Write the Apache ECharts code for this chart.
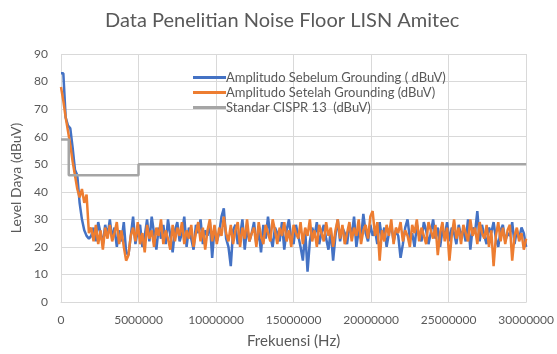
<!DOCTYPE html>
<html>
<head>
<meta charset="utf-8">
<script src="https://cdn.jsdelivr.net/npm/echarts@6/dist/echarts.min.js"></script>
<style>html,body{margin:0;padding:0;background:#fff}#c{width:557px;height:354px}</style>
</head>
<body>
<div id="c"></div>
<script>
var titleText = 'Data Penelitian Noise Floor LISN Amitec';
var seriesNames = ['Amplitudo Sebelum Grounding ( dBuV)', 'Amplitudo Setelah Grounding (dBuV)', 'Standar CISPR 13  (dBuV)'];
var freqStartHz = 0;
var freqStepHz = 150000;
var xTicks = [0, 5000000, 10000000, 15000000, 20000000, 25000000, 30000000];
var yTicks = [0, 10, 20, 30, 40, 50, 60, 70, 80, 90];

var sebelum = [
83,83,67,64,63,56,48,46,36,30,26,24,23,
24,27,22,29,25,21,28,24,30,23,
27,20,26,22,29,18,17,24,31,21,
26,28,20,24,30,22,31,25,19,27,
23,28,21,30,24,18,26,29,22,25,
31,20,27,23,19,28,25,30,21,26,
24,29,16,27,22,25,31,34,23,20,
13,26,28,21,24,30,19,27,22,25,
29,21,26,18,28,23,31,24,20,27,
25,22,29,19,26,30,23,21,28,24,
20,15,26,11,22,27,24,29,21,25,
28,23,19,26,15,24,30,22,27,25,
21,28,24,31,20,26,23,32,25,22,
28,24,26,21,29,23,27,20,25,28,
22,26,24,16,21,27,30,23,25,20,
28,24,22,29,26,21,25,30,23,27,
20,26,24,29,22,27,25,21,28,24,
26,22,30,19,27,25,33,22,28,24,
21,27,25,29,23,20,26,28,22,25,
24,29,21,26,23,27,25,20
];

var setelah = [
78,73,67,62,57,51,46,41,38,41,36,39,25,
27,22,28,21,26,19,27,23,28,22,
25,29,21,26,20,15,17,24,27,22,
29,21,25,18,28,23,26,20,27,24,
30,21,26,23,19,28,22,27,24,29,
21,26,23,28,20,25,29,22,27,19,
26,30,22,28,21,27,24,31,25,22,
28,21,26,29,20,27,23,30,22,25,
27,20,29,24,21,28,25,22,30,26,
21,27,24,29,22,26,20,28,25,23,
29,21,27,24,30,22,26,20,28,25,
22,29,24,27,20,26,30,23,28,21,
25,29,22,27,24,30,21,26,28,23,
31,33,24,29,15,26,22,28,24,30,
21,27,25,29,22,26,24,20,28,25,
30,22,27,24,21,29,26,23,28,17,
25,29,22,27,15,24,30,23,27,21,
28,25,22,30,24,27,21,29,25,23,
28,20,26,13,24,29,22,27,21,26,
28,15,24,27,22,25,19,23
];

var cisprFreq = [0, 500000, 500000, 5000000, 5000000, 30000000];
var cisprLevel = [59, 59, 46, 46, 50, 50];

function pairs(vals) {
  return vals.map(function (v, i) { return [freqStartHz + i * freqStepHz, v]; });
}
var cisprData = cisprFreq.map(function (f, i) { return [f, cisprLevel[i]]; });

var txt = '#595959';
var font = 'Lato, "Open Sans", sans-serif';
var chart = echarts.init(document.getElementById('c'), null, { renderer: 'canvas' });
chart.setOption({
  animation: false,
  backgroundColor: '#fff',
  textStyle: { fontFamily: font, color: txt },
  title: {
    text: titleText, left: 100, top: 6,
    textStyle: { fontFamily: font, fontSize: 20, fontWeight: 'normal', color: txt }
  },
  legend: {
    orient: 'vertical', left: 188, top: 66, itemGap: 2,
    icon: 'rect', itemWidth: 33, itemHeight: 3,
    textStyle: { fontFamily: font, fontSize: 13, color: txt, padding: [0, 0, 0, -5] },
    data: seriesNames
  },
  grid: { left: 61, right: 27, top: 54, bottom: 50 },
  xAxis: {
    type: 'value', min: xTicks[0], max: xTicks[xTicks.length - 1], interval: 5000000,
    name: 'Frekuensi (Hz)', nameLocation: 'middle', nameGap: 32,
    nameTextStyle: { fontFamily: font, fontSize: 15, color: txt },
    axisLine: { show: true, lineStyle: { color: '#d9d9d9' } },
    axisTick: { show: false },
    axisLabel: { color: txt, fontSize: 12, fontFamily: font, margin: 12, formatter: function (v) { return String(v); } },
    splitLine: { show: true, lineStyle: { color: '#d9d9d9', width: 1 } }
  },
  yAxis: {
    type: 'value', min: yTicks[0], max: yTicks[yTicks.length - 1], interval: 10,
    name: 'Level Daya (dBuV)', nameLocation: 'middle', nameGap: 36,
    nameTextStyle: { fontFamily: font, fontSize: 14, color: txt },
    axisLine: { show: false },
    axisTick: { show: false },
    axisLabel: { color: txt, fontSize: 12, fontFamily: font, margin: 13 },
    splitLine: { show: true, lineStyle: { color: '#d9d9d9', width: 1 } }
  },
  series: [
    { name: seriesNames[0], type: 'line', symbol: 'none', data: pairs(sebelum),
      lineStyle: { color: '#4472C4', width: 2.5 }, itemStyle: { color: '#4472C4' } },
    { name: seriesNames[1], type: 'line', symbol: 'none', data: pairs(setelah),
      lineStyle: { color: '#ED7D31', width: 2.5 }, itemStyle: { color: '#ED7D31' } },
    { name: seriesNames[2], type: 'line', symbol: 'none', data: cisprData,
      lineStyle: { color: '#A5A5A5', width: 2.5 }, itemStyle: { color: '#A5A5A5' } }
  ]
});
</script>
</body>
</html>
